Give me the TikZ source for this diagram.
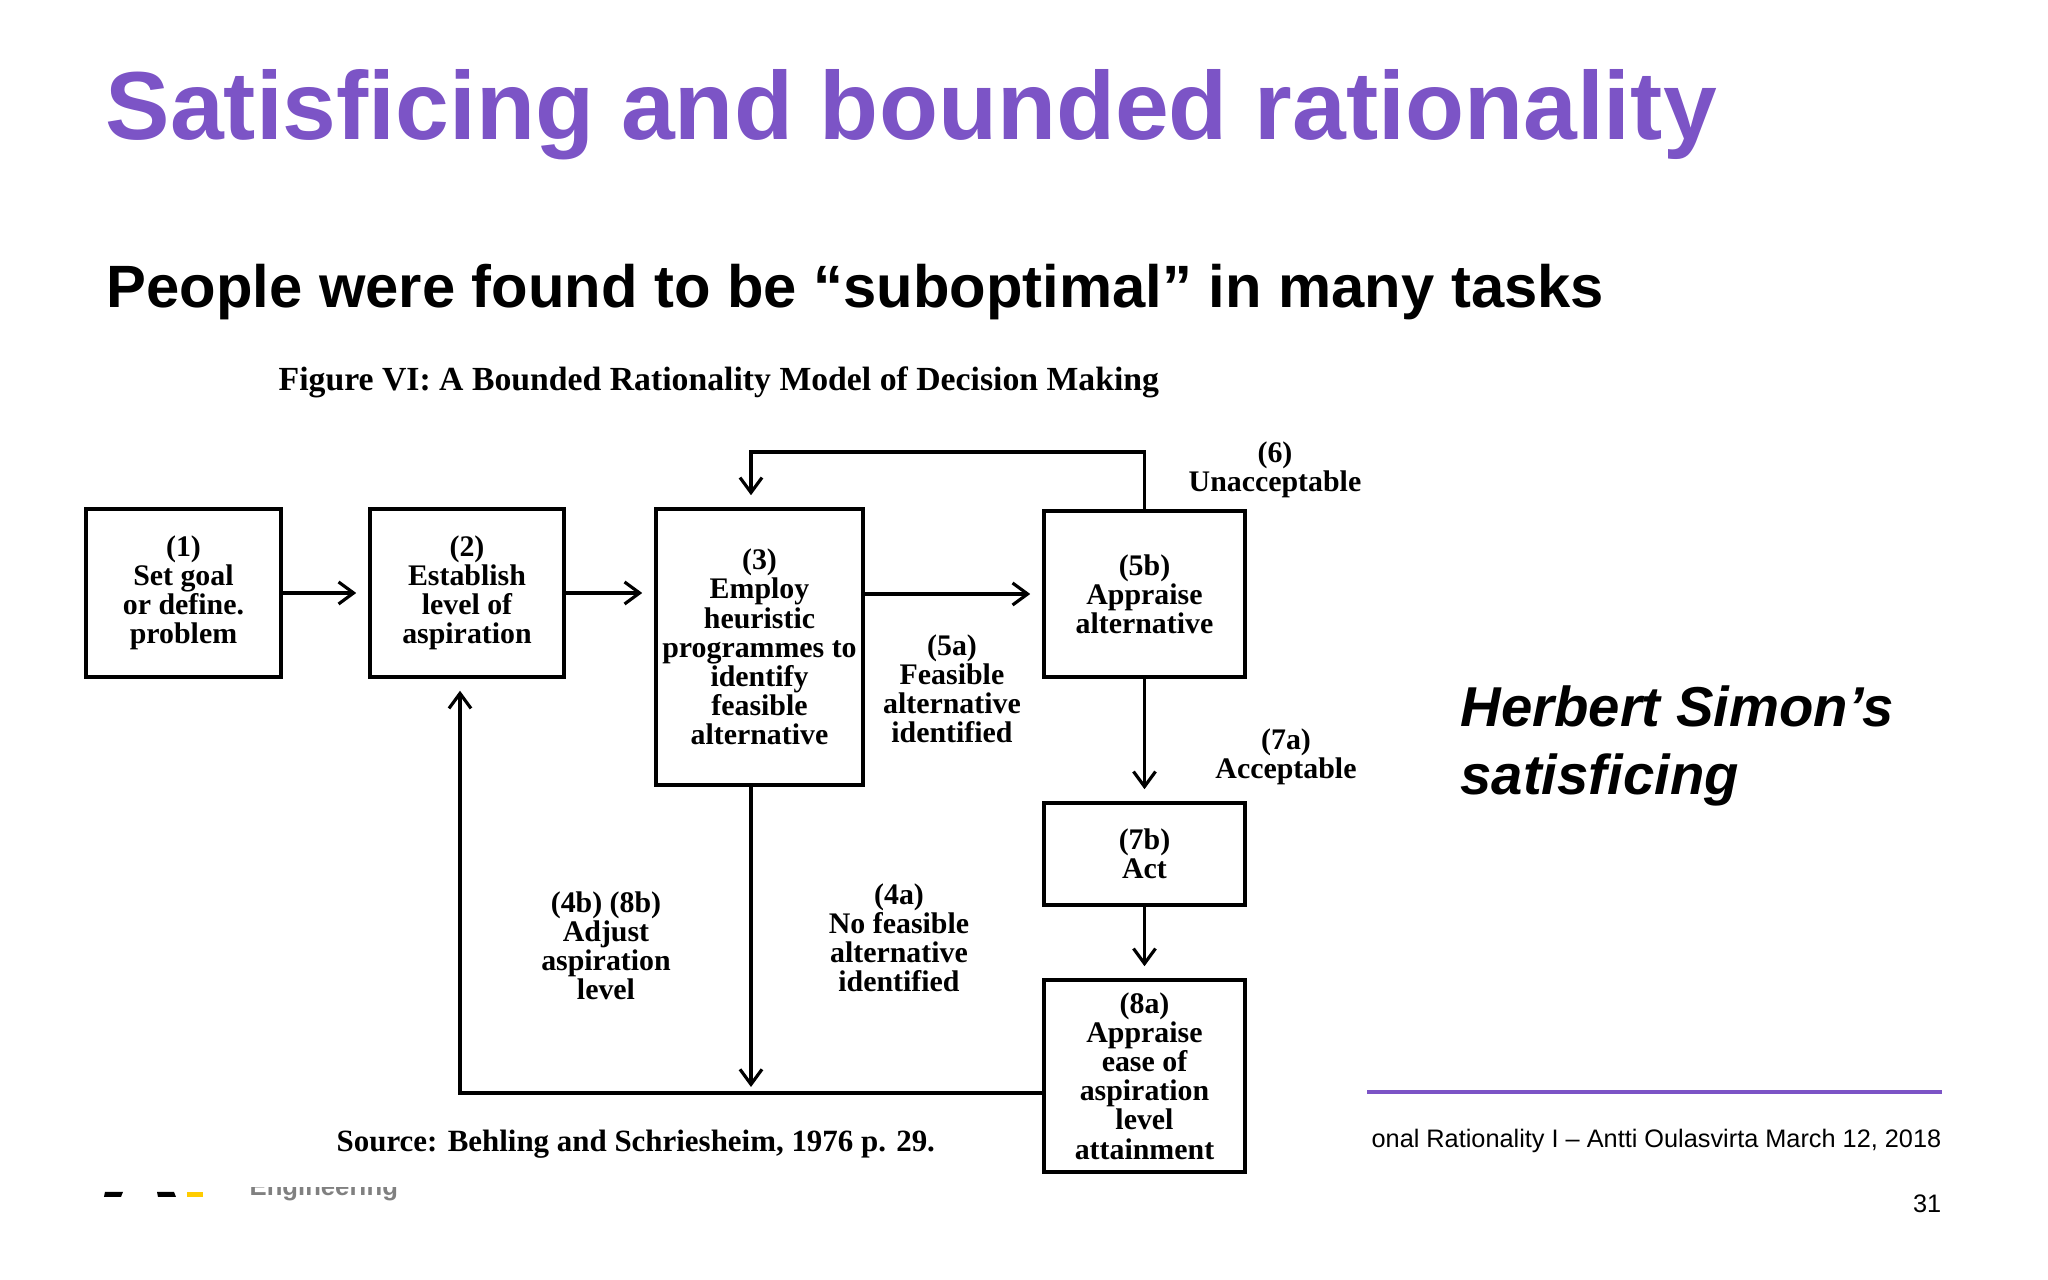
\documentclass[tikz,border=0pt]{standalone}
\usepackage{fontspec}
\setmainfont{Liberation Serif}
\setsansfont{Liberation Sans}
\usetikzlibrary{arrows.meta}
\definecolor{slidepurple}{RGB}{124,84,198}
\definecolor{logoyellow}{RGB}{255,204,0}

\begin{document}
\begin{tikzpicture}[
    blk/.style={draw, line width=1pt, inner sep=1pt, align=center,
      font=\bfseries\fontsize{8.5}{8.3}\selectfont},
    lbl/.style={inner sep=0pt, align=center,
      font=\bfseries\fontsize{8.5}{8.3}\selectfont},
    >={Straight Barb[length=1.5mm,width=2.2mm]},
    flow/.style={->, line width=0.9pt, shorten >=1.2mm}]
    \useasboundingbox (0,0) rectangle (20.48,-12.8);
    % slide heading
    \node[anchor=base west, inner sep=0pt, text=slidepurple,
      font=\sffamily\bfseries\fontsize{27.5}{33}\selectfont] (title) at (1.05,-1.40)
      {Satisficing and bounded rationality};
    \node[anchor=base west, inner sep=0pt,
      font=\sffamily\bfseries\fontsize{17}{20}\selectfont] (sub) at (1.06,-3.08)
      {People were found to be “suboptimal” in many tasks};
    \node[anchor=base west, inner sep=0pt,
      font=\bfseries\fontsize{9.6}{11}\selectfont] (cap) at (2.78,-3.91)
      {Figure VI: A Bounded Rationality Model of Decision Making};
    % the boxes
    \node[blk, minimum width=1.95cm, minimum height=1.68cm] (b1) at (1.835,-5.93)
      {(1)\\Set goal\\or define.\\problem};
    \node[blk, minimum width=1.94cm, minimum height=1.68cm] (b2) at (4.67,-5.93)
      {(2)\\Establish\\level of\\aspiration};
    \node[blk, minimum width=2.07cm, minimum height=2.76cm] (b3) at (7.595,-6.47)
      {(3)\\Employ\\heuristic\\programmes to\\identify\\feasible\\alternative};
    \node[blk, minimum width=2.01cm, minimum height=1.66cm] (b5b) at (11.445,-5.94)
      {(5b)\\Appraise\\alternative};
    \node[blk, minimum width=2.01cm, minimum height=1.02cm] (b7b) at (11.445,-8.54)
      {(7b)\\Act};
    \node[blk, minimum width=2.01cm, minimum height=1.92cm] (b8a) at (11.445,-10.76)
      {(8a)\\Appraise\\ease of\\aspiration\\level\\attainment};
    % labels on the paths
    \node[lbl] (l6) at (12.75,-4.70) {(6)\\Unacceptable};
    \node[lbl] (l5a) at (9.52,-6.89) {(5a)\\Feasible\\alternative\\identified};
    \node[lbl] (l7a) at (12.86,-7.57) {(7a)\\Acceptable};
    \node[lbl] (l4b) at (6.06,-9.46) {(4b) (8b)\\Adjust\\aspiration\\level};
    \node[lbl] (l4a) at (8.99,-9.38) {(4a)\\No feasible\\alternative\\identified};
    \node[anchor=west, inner sep=0pt, font=\bfseries\fontsize{8.8}{10}\selectfont] (src)
      at (3.36,-11.44) {Source: Behling and Schriesheim, 1976 p. 29.};
    % arrows
    \coordinate (tl) at (7.51,-4.52);
    \coordinate (bl) at (4.60,-10.93);
    \draw[flow] (b1) -- (b2);
    \draw[flow] (b2.east) -- (b2.east -| b3.west);
    \draw[flow] (b3.east |- b5b.west) -- (b5b.west);
    \draw[flow] (b5b.north) |- (tl) -- (tl |- b3.north);
    \draw[flow] (b5b) -- (b7b);
    \draw[flow] (b7b) -- (b8a);
    \draw[flow, shorten >=0.6mm] (tl |- b3.south) -- (tl |- bl);
    \draw[flow] (b8a.west |- bl) -- (bl) -- (bl |- b2.south);
    % right hand text
    \node[anchor=base west, inner sep=0pt,
      font=\sffamily\bfseries\itshape\fontsize{16}{19}\selectfont] (simon1) at (14.60,-7.27)
      {Herbert Simon’s};
    \node[anchor=base west, inner sep=0pt,
      font=\sffamily\bfseries\itshape\fontsize{16}{19}\selectfont] (simon2) at (14.60,-7.95)
      {satisficing};
    % footer
    \draw[slidepurple, line width=0.9pt] (13.67,-10.92) -- (19.42,-10.92);
    \node[anchor=base east, inner sep=0pt, font=\sffamily\fontsize{7.2}{8}\selectfont] (foot)
      at (19.42,-11.48) {onal Rationality I – Antti Oulasvirta March 12, 2018};
    \node[anchor=base east, inner sep=0pt, font=\sffamily\fontsize{7.2}{8}\selectfont] (page)
      at (19.42,-12.13) {31};
    % logo remains
    \fill (1.05,-11.92) -- (1.23,-11.92) -- (1.21,-11.97) -- (1.04,-11.97) -- cycle;
    \fill (1.57,-11.92) -- (1.74,-11.92) -- (1.76,-11.97) -- (1.58,-11.97) -- cycle;
    \fill[logoyellow] (1.87,-11.92) rectangle (2.03,-11.97);
    \begin{scope}
      \clip (2.3,-11.88) rectangle (4.3,-12.1);
      \node[anchor=base west, inner sep=0pt, text=gray,
        font=\sffamily\bfseries\fontsize{7.3}{8}\selectfont] (eng) at (2.49,-11.96) {Engineering};
    \end{scope}
\end{tikzpicture}
\end{document}
